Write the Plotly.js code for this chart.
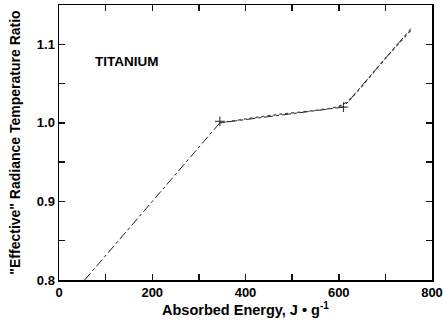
<!DOCTYPE html>
<html><head><meta charset="utf-8">
<script src="https://cdn.plot.ly/plotly-3.0.1.min.js"></script>
<style>html,body{margin:0;padding:0;background:#fff}#c{width:443px;height:322px}</style>
</head><body><div id="c"></div>
<script>
const modelX = [55, 345, 610, 755];
const modelY = [0.8, 1.0, 1.02, 1.12];
const measX = [345, 400, 475, 550, 600, 620, 640, 700, 755];
const measY = [1.0, 1.005, 1.011, 1.016, 1.021, 1.028, 1.04, 1.082, 1.118];
const crossX = [345, 610];
const crossY = [1.002, 1.02];
const xTickVals = [0, 100, 200, 300, 400, 500, 600, 700, 800];
const xTickText = ["0", " ", "200", " ", "400", " ", "600", " ", "800"];
const yTickVals = [0.8, 0.85, 0.9, 0.95, 1.0, 1.05, 1.1];
const yTickText = ["0.8", " ", "0.9", " ", "1.0", " ", "1.1"];
const label = "TITANIUM";

const fam = "Liberation Sans, Arial, sans-serif";
const tf = {family: fam, size: 13, color: "#000", weight: "bold"};
const traces = [
  {x: modelX, y: modelY, mode: "lines", line: {color: "#222", width: 1, dash: "dashdot"}, showlegend: false},
  {x: measX, y: measY, mode: "lines", line: {color: "#444", width: 1.3, dash: "dot", shape: "spline"}, showlegend: false},
  {x: crossX, y: crossY, mode: "markers", marker: {symbol: "cross-thin", size: 7, line: {color: "#222", width: 1}}, showlegend: false}
];
const layout = {
  width: 443, height: 322,
  margin: {l: 59, r: 11, t: 5, b: 42},
  xaxis: {showline: true, linecolor: "#000", linewidth: 1.5, mirror: "ticks", ticks: "inside", ticklen: 6, tickwidth: 1.5, tickcolor: "#111",
    showgrid: true, gridcolor: "rgba(0,0,0,0)", tickfont: tf, range: [0, 800], tickmode: "array", tickvals: xTickVals, ticktext: xTickText,
    title: {text: "Absorbed Energy, J \u2022 g<sup>-1</sup>", font: {family: fam, size: 14.5, color: "#000", weight: "bold"}, standoff: 6}},
  yaxis: {showline: true, linecolor: "#000", linewidth: 1.5, mirror: "ticks", ticks: "inside", ticklen: 6, tickwidth: 1.5, tickcolor: "#111",
    showgrid: true, gridcolor: "rgba(0,0,0,0)", tickfont: tf, range: [0.8, 1.15], tickmode: "array", tickvals: yTickVals, ticktext: yTickText,
    title: {text: '"Effective" Radiance Temperature Ratio', font: {family: fam, size: 14, color: "#000", weight: "bold"}, standoff: 13}},
  annotations: [{x: 146, y: 1.078, xref: "x", yref: "y", text: label, showarrow: false, font: {family: fam, size: 13.5, color: "#000", weight: "bold"}}]
};
Plotly.newPlot("c", traces, layout, {displayModeBar: false, staticPlot: true});
</script></body></html>
